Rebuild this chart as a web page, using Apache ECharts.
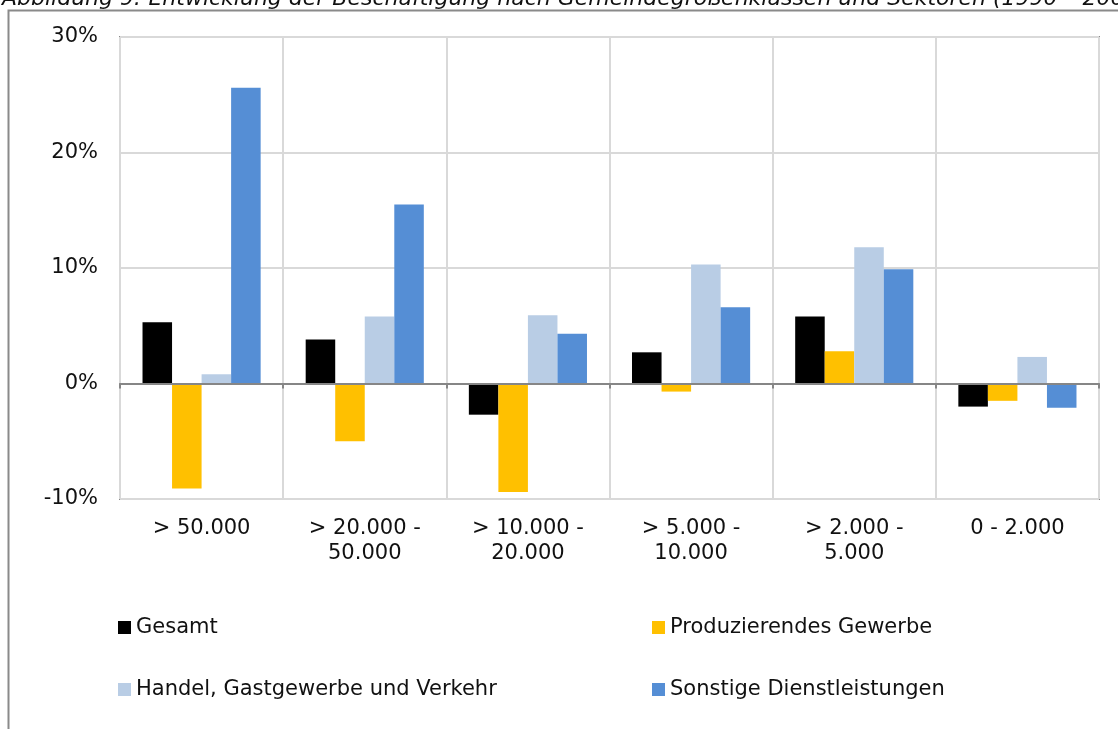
<!DOCTYPE html>
<html>
<head>
<meta charset="utf-8">
<style>
  html, body { margin: 0; padding: 0; background: #fff; }
  #chart { width: 1118px; height: 729px; }
</style>
<script src="https://cdn.jsdelivr.net/npm/echarts@6/dist/echarts.min.js"></script>
</head>
<body>
<div id="chart"></div>
<script>
// Municipality size classes (Gemeindegrößenklassen)
const categories = ['> 50.000', '> 20.000 -\n50.000', '> 10.000 -\n20.000', '> 5.000 -\n10.000', '> 2.000 -\n5.000', '0 - 2.000'];

// Change in employment per sector, in percent
const gesamt       = [5.3, 3.8, -2.7, 2.7, 5.8, -2.0];
const produzierend = [-9.1, -5.0, -9.4, -0.7, 2.8, -1.5];
const handel       = [0.8, 5.8, 5.9, 10.3, 11.8, 2.3];
const sonstige     = [25.6, 15.5, 4.3, 6.6, 9.9, -2.1];

const seriesNames = ['Gesamt', 'Produzierendes Gewerbe', 'Handel, Gastgewerbe und Verkehr', 'Sonstige Dienstleistungen'];
const seriesColors = ['#000000', '#FFC000', '#B9CDE5', '#558ED5'];

const yTicks = { min: -10, max: 30, interval: 10 };

const titleText = 'Abbildung 9: Entwicklung der Beschäftigung nach Gemeindegrößenklassen und Sektoren (1990 – 2007)';

const FONT = 'DejaVu Sans';
const TEXT = '#111111';

const chart = echarts.init(document.getElementById('chart'), null, { renderer: 'canvas' });

const values = [gesamt, produzierend, handel, sonstige];

const legendText = { fontFamily: FONT, fontSize: 21, color: TEXT, lineHeight: 21 };

const option = {
  animation: false,
  backgroundColor: '#ffffff',
  textStyle: { fontFamily: FONT },
  graphic: [
    {
      type: 'rect',
      shape: { x: 8.5, y: 10.5, width: 1200, height: 800 },
      style: { fill: 'none', stroke: '#8a8a8a', lineWidth: 2 },
      silent: true
    },
    {
      type: 'text',
      left: 2,
      top: -12,
      style: {
        text: titleText,
        font: 'italic 22px "DejaVu Sans"',
        fill: TEXT
      },
      silent: true
    }
  ],
  legend: [
    {
      orient: 'vertical',
      left: 118,
      top: 617,
      padding: 0,
      itemWidth: 13,
      itemHeight: 13,
      itemGap: 41,
      icon: 'rect',
      data: [seriesNames[0], seriesNames[2]],
      textStyle: legendText
    },
    {
      orient: 'vertical',
      left: 652,
      top: 617,
      padding: 0,
      itemWidth: 13,
      itemHeight: 13,
      itemGap: 41,
      icon: 'rect',
      data: [seriesNames[1], seriesNames[3]],
      textStyle: legendText
    }
  ],
  grid: {
    left: 120,
    right: 19,
    top: 37,
    bottom: 230,
    show: true,
    borderColor: '#8a8a8a',
    borderWidth: 2,
    containLabel: false
  },
  xAxis: [
    {
      // zero line with boundary ticks
      type: 'category',
      data: categories,
      position: 'bottom',
      z: 5,
      axisLine: { show: true, onZero: true, lineStyle: { color: '#868686', width: 2 } },
      axisTick: { show: true, length: 5, lineStyle: { color: '#868686', width: 2 } },
      axisLabel: { show: false },
      splitLine: { show: false }
    },
    {
      // category labels along the bottom edge, with boundary grid lines
      type: 'category',
      data: categories,
      position: 'bottom',
      axisLine: { show: false, onZero: false },
      axisTick: { show: false },
      axisLabel: {
        show: true,
        margin: 17,
        fontFamily: FONT,
        fontSize: 21,
        lineHeight: 25,
        color: TEXT,
        interval: 0
      },
      splitLine: { show: true, interval: 0, lineStyle: { color: '#d9d9d9', width: 2 } }
    }
  ],
  yAxis: {
    type: 'value',
    min: yTicks.min,
    max: yTicks.max,
    interval: yTicks.interval,
    axisLine: { show: false },
    axisTick: { show: false },
    axisLabel: {
      formatter: '{value}%',
      fontFamily: FONT,
      fontSize: 21,
      color: TEXT,
      margin: 22
    },
    splitLine: { show: true, lineStyle: { color: '#d9d9d9', width: 2 } }
  },
  series: values.map((arr, i) => ({
    name: seriesNames[i],
    type: 'bar',
    xAxisIndex: 0,
    data: arr,
    barGap: '0%',
    barCategoryGap: '27.6%',
    itemStyle: { color: seriesColors[i] }
  }))
};

chart.setOption(option);
</script>
</body>
</html>
